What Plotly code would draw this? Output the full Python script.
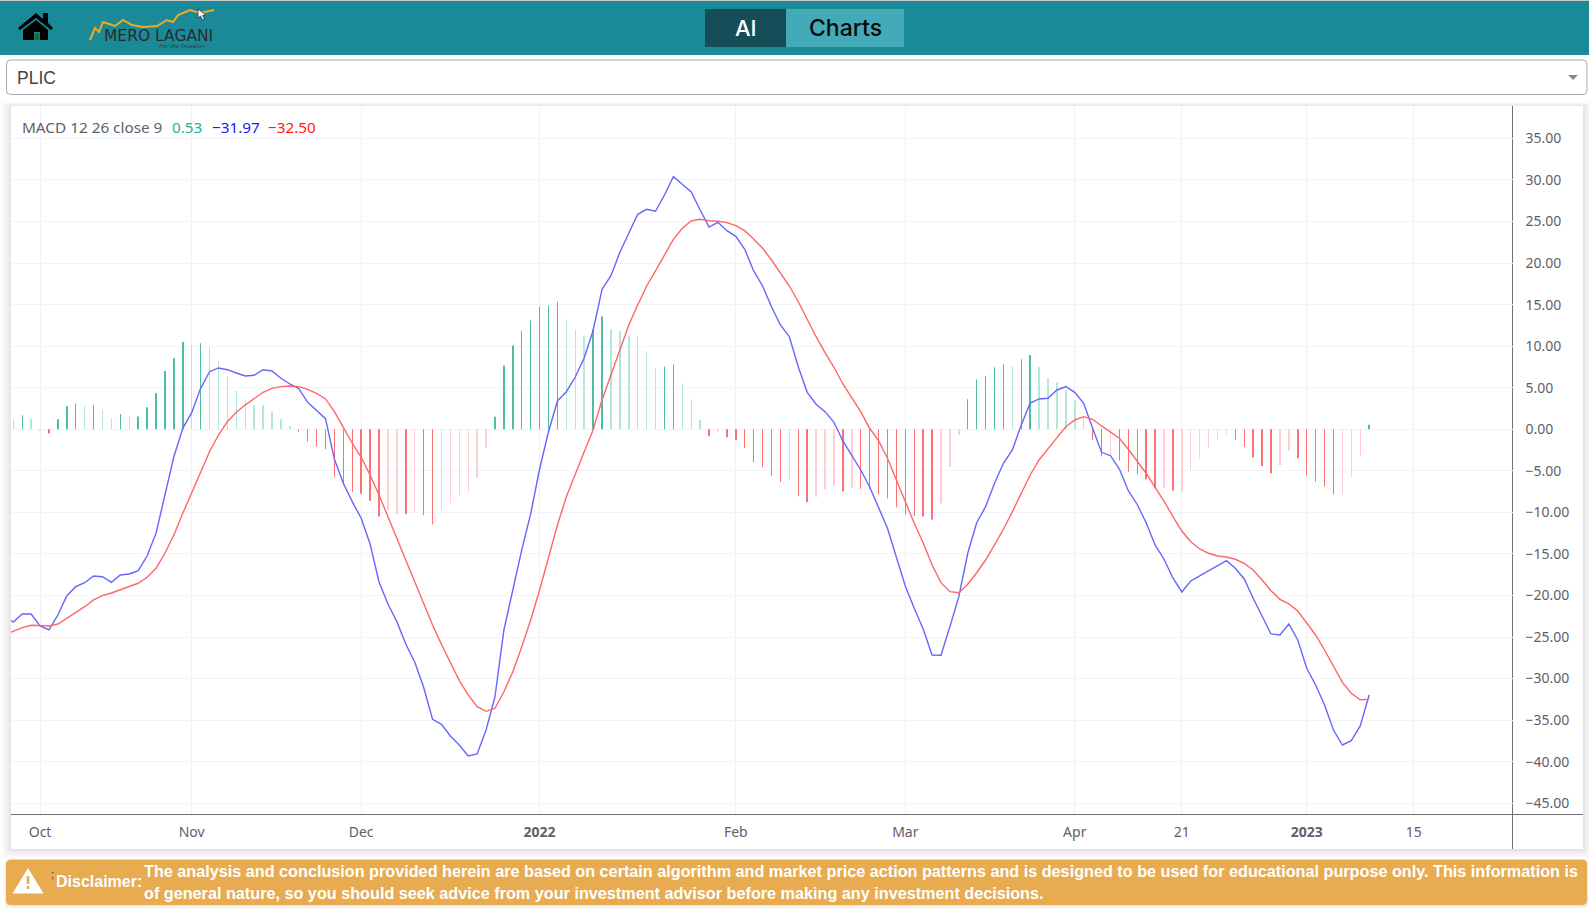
import plotly.graph_objects as go

W, H = 1589, 909

macd_before_first = -22.50
signal_before_first = -24.75

macd = [-23.19,-22.23,-22.23,-23.67,-24.15,-22.35,-20.02,-18.94,-18.46,-17.65,
-17.74,-18.41,-17.53,-17.41,-17.02,-15.25,-12.52,-7.91,-3.30,0.12,
2.00,4.93,6.93,7.38,7.17,6.77,6.41,6.50,7.17,7.02,
6.14,5.45,4.89,3.25,2.24,1.28,-3.61,-6.50,-8.71,-10.71,
-13.80,-18.38,-21.02,-23.15,-25.84,-28.00,-31.05,-34.90,-35.50,-36.91,
-37.99,-39.31,-39.07,-36.19,-32.18,-24.15,-19.34,-14.52,-10.19,-4.78,
-0.29,3.41,4.52,6.29,8.58,11.89,16.85,18.48,21.30,23.59,
25.87,26.47,26.23,28.19,30.40,29.48,28.56,26.39,24.34,24.91,
23.90,23.22,21.66,19.05,17.24,14.75,12.55,11.14,7.53,4.45,
3.01,2.12,0.84,-1.41,-3.09,-4.90,-6.91,-9.39,-11.91,-15.40,
-18.86,-21.54,-24.03,-27.16,-27.20,-23.75,-20.14,-14.92,-11.24,-9.31,
-6.50,-4.09,-2.49,0.52,3.16,3.65,3.73,4.73,5.13,4.45,
3.13,0.12,-2.77,-3.18,-4.78,-7.39,-9.05,-11.25,-13.92,-15.64,
-17.89,-19.58,-18.25,-17.65,-17.05,-16.45,-15.81,-16.73,-18.01,-20.34,
-22.43,-24.63,-24.75,-23.43,-25.35,-28.76,-30.77,-33.18,-36.19,-37.99,
-37.47,-35.70,-31.97]

signal = [-24.31,-23.87,-23.59,-23.59,-23.67,-23.43,-22.74,-22.07,-21.35,-20.54,
-20.02,-19.70,-19.30,-18.89,-18.53,-17.81,-16.73,-14.92,-12.72,-10.11,
-7.55,-5.17,-2.70,-0.69,0.91,2.05,2.92,3.73,4.45,4.93,
5.13,5.21,5.13,4.81,4.33,3.65,2.12,0.24,-1.68,-3.37,
-5.50,-7.91,-10.52,-13.02,-15.61,-18.25,-20.90,-23.55,-25.90,-28.16,
-30.25,-31.97,-33.38,-33.94,-33.57,-31.58,-29.17,-26.16,-22.95,-19.34,
-15.33,-11.52,-8.11,-5.29,-2.70,-0.08,3.53,6.53,9.54,12.55,
14.96,17.24,19.05,20.89,22.86,24.19,25.07,25.27,25.10,25.03,
24.86,24.50,23.90,22.90,21.78,20.37,18.77,17.24,15.35,13.15,
11.14,9.22,7.46,5.45,3.73,2.12,0.12,-1.37,-3.49,-6.10,
-8.90,-11.31,-13.65,-16.33,-18.46,-19.54,-19.66,-18.65,-17.26,-15.73,
-13.92,-12.03,-9.92,-7.70,-5.50,-3.69,-2.41,-1.01,0.31,1.12,
1.52,1.20,0.40,-0.29,-1.08,-2.41,-3.81,-5.29,-6.98,-8.63,
-10.52,-12.24,-13.53,-14.40,-14.92,-15.25,-15.37,-15.64,-16.13,-16.93,
-18.13,-19.42,-20.46,-21.02,-21.87,-23.35,-24.75,-26.56,-28.48,-30.45,
-31.77,-32.54,-32.50]

hist = [1.24,1.70,1.30,-0.10,-0.50,1.20,2.77,3.10,2.85,2.90,
2.30,1.30,1.85,1.60,1.55,2.65,4.33,7.00,8.55,10.50,
10.15,10.35,9.87,8.20,6.40,4.70,3.50,2.90,2.90,2.15,
1.20,0.40,-0.30,-1.50,-2.05,-2.40,-5.80,-6.65,-7.55,-7.75,
-8.60,-10.50,-9.70,-10.20,-10.20,-10.00,-10.35,-11.45,-9.70,-8.90,
-7.90,-7.50,-5.80,-2.20,1.50,7.66,10.07,11.87,13.08,14.76,
14.88,15.32,13.20,12.00,11.27,12.00,13.56,12.07,11.80,11.27,
11.10,9.39,7.34,7.54,7.78,5.50,3.57,1.16,-0.84,-0.24,
-0.96,-1.28,-2.25,-3.97,-4.57,-5.66,-6.34,-6.26,-8.06,-8.74,
-8.14,-7.26,-6.78,-7.48,-7.08,-7.16,-7.20,-7.86,-8.34,-9.39,
-10.27,-10.43,-10.50,-10.87,-8.90,-4.50,-0.68,3.60,6.00,6.40,
7.46,7.82,7.62,8.42,8.94,7.46,6.10,5.66,4.73,3.45,
1.60,-1.28,-3.29,-3.09,-3.77,-5.10,-5.37,-6.00,-7.10,-7.06,
-7.38,-7.50,-4.90,-3.57,-2.27,-1.28,-0.60,-1.28,-2.09,-3.40,
-4.41,-5.30,-4.37,-2.57,-3.50,-5.57,-6.30,-6.90,-7.82,-7.80,
-5.78,-3.20,0.53]

hist_shade = list("LSLLSSSSLS" "LLSLSSSSSS" "LSLLLLLLLL" "LLSSSSSSSS" "SSLLSLSSLL"
                  "LLLLSSSSSS" "SSLLLSSLLL" "LLLSSLLLSL" "SSSSSSSLSS" "LLLSLSSSSS"
                  "SSSSLLLSSS" "SSLSSLLLLL" "LSSLSSSSSL" "SLLLLLLSSS" "SSLLSSSSSL" "LLS")

bar_index = list(range(len(hist)))
line_index = [-1] + bar_index
tick_index = [3, 20, 39, 59, 81, 100, 119, 131, 145, 157]
tick_labels = ["Oct", "Nov", "Dec", "<b>2022</b>", "Feb", "Mar", "Apr", "21", "<b>2023</b>", "15"]

disclaimer_1 = ("The analysis and conclusion provided herein are based on certain algorithm and market price action "
                "patterns and is designed to be used for educational purpose only. This information is")
disclaimer_2 = "of general nature, so you should seek advice from your investment advisor before making any investment decisions."

SHADES = {("+", "S"): "#4dbea3", ("+", "L"): "#b2e8d8", ("-", "S"): "#ff7070", ("-", "L"): "#ffcdd2"}
bar_colors = [SHADES[("+" if v >= 0 else "-", s)] for v, s in zip(hist, hist_shade)]


def px(x):
    return x / W


def py(y):
    return 1 - y / H


def rect(x0, y0, x1, y1, fill, line=None, layer="below", opacity=1, lw=1):
    return dict(type="rect", xref="paper", yref="paper", x0=px(x0), x1=px(x1), y0=py(y0), y1=py(y1),
                fillcolor=fill, opacity=opacity, layer=layer,
                line=dict(color=line or "rgba(0,0,0,0)", width=lw if line else 0))


def path(points, fill=None, line=None, lw=1, close=False, layer="below"):
    d = "M " + " L ".join(f"{px(x):.6f},{py(y):.6f}" for x, y in points) + (" Z" if close else "")
    return dict(type="path", xref="paper", yref="paper", path=d, layer=layer,
                fillcolor=fill or "rgba(0,0,0,0)",
                line=dict(color=line or "rgba(0,0,0,0)", width=lw if line else 0))


def rrect(x0, y0, x1, y1, r, fill, line=None, lw=1):
    P = lambda x, y: f"{px(x):.6f},{py(y):.6f}"
    d = (f"M {P(x0 + r, y0)} L {P(x1 - r, y0)} Q {P(x1, y0)} {P(x1, y0 + r)} L {P(x1, y1 - r)} "
         f"Q {P(x1, y1)} {P(x1 - r, y1)} L {P(x0 + r, y1)} Q {P(x0, y1)} {P(x0, y1 - r)} "
         f"L {P(x0, y0 + r)} Q {P(x0, y0)} {P(x0 + r, y0)} Z")
    return dict(type="path", xref="paper", yref="paper", path=d, layer="below", fillcolor=fill,
                line=dict(color=line or "rgba(0,0,0,0)", width=lw if line else 0))


def label(x, y, text, size, color, family="Liberation Sans", anchor="left", weight=None):
    f = dict(size=size, color=color, family=family)
    if weight:
        f["weight"] = weight
    return dict(xref="paper", yref="paper", x=px(x), y=py(y), text=text, showarrow=False,
                xanchor=anchor, yanchor="middle", font=f, borderpad=0, borderwidth=0)


shapes = []
# header
shapes.append(rect(0, 0, W, 1, "#c9c9c9"))
shapes.append(rect(0, 1, W, 55, "#1b8a98"))
shapes.append(rect(705, 9, 786, 47, "#154e58"))
shapes.append(rect(786, 9, 904, 47, "#43abb8"))
# home icon
shapes.append(path([(18, 28), (36, 13), (43, 19), (43, 13), (48, 13), (48, 23), (53, 28), (51, 30), (36, 18), (20, 30)], fill="#000000", close=True))
shapes.append(path([(23, 30), (36, 20), (48, 30), (48, 40), (40, 40), (40, 32), (34, 32), (34, 40), (23, 40)], fill="#000000", close=True))
shapes.append(rect(34.5, 33, 39.5, 40, "#1e6b3a"))
# logo
shapes.append(path([(90, 40), (95, 28), (99, 32), (103, 22), (115, 26), (123, 20), (132, 25), (143, 27), (157, 26), (167, 20), (173, 22), (178, 15), (190, 10), (200, 13), (214, 10)], line="#efab1e", lw=2))
# cursor
shapes.append(path([(198, 9), (198, 18), (200.5, 16), (202.5, 20), (204.5, 19), (202.5, 15.5), (206, 15)], fill="#ffffff", line="#333333", lw=0.8, close=True))
# select
shapes.append(rrect(6.5, 60, 1587, 94.5, 4, "#ffffff", "#aaaaaa", 1))
shapes.append(path([(1568, 75), (1578, 75), (1573, 80)], fill="#888888", close=True))
# card shadow
for g, o in [(10, 0.012), (8, 0.015), (6, 0.02), (4, 0.025), (2, 0.03)]:
    shapes.append(rrect(11 - g, 106 - g * 0.4, 1583 + g, 849 + g, 3, f"rgba(0,0,0,{o})"))
shapes.append(rect(11, 106, 1583, 849, "#ffffff"))
shapes.append(rect(1512, 106, 1513, 849, "#6f6f75"))
shapes.append(rect(11, 814, 1583, 815, "#6f6f75"))
# disclaimer
for g, o in [(5, 0.02), (3, 0.03), (1, 0.05)]:
    shapes.append(rrect(6 - g * 0.4, 860, 1587 + g * 0.4, 905 + g, 5, f"rgba(0,0,0,{o})"))
shapes.append(rrect(6, 859.5, 1587, 905, 5, "#e8ab4f"))
shapes.append(path([(28, 868), (43.5, 893.5), (12.5, 893.5)], fill="#ffffff", close=True))
shapes.append(rect(26.7, 876, 29.3, 884, "#e8ab4f"))
shapes.append(rect(26.7, 886, 29.3, 889, "#e8ab4f"))

annotations = [
    label(745.5, 28.5, "AI", 22, "#ffffff", "Inter", "center", 500),
    label(845.5, 28.5, "Charts", 23, "#0a0a0a", "Inter", "center", 500),
    label(104, 35.5, "MERO LAGANI", 15.5, "#2a2a2a", "DejaVu Sans"),
    label(158, 46, "<i>For the Investor</i>", 5.5, "#333333", "DejaVu Serif"),
    label(17, 77.5, "PLIC", 17.5, "#444444"),
    label(21.7, 126.7, "MACD 12 26 close 9", 15.3, "#5f6068", "Noto Sans"),
    label(172, 126.7, "0.53", 15.3, "#26b08f", "Noto Sans"),
    label(212, 126.7, "\u221231.97", 15.3, "#1a1aff", "Noto Sans"),
    label(268, 126.7, "\u221232.50", 15.3, "#ff1a1a", "Noto Sans"),
    label(51, 874, ";", 11, "#333333"),
    label(56, 881.5, "<b>Disclaimer:</b>", 16, "#ffffff"),
    label(143.5, 870.5, "<b>" + disclaimer_1 + "</b>", 16.22, "#ffffff"),
    label(143.5, 893, "<b>" + disclaimer_2 + "</b>", 16.22, "#ffffff"),
]

fig = go.Figure()
fig.add_bar(x=bar_index, y=hist, width=0.05, marker=dict(color=bar_colors, line=dict(width=0)), showlegend=False, hoverinfo="skip")
fig.add_scatter(x=line_index, y=[macd_before_first] + macd, mode="lines", line=dict(color="#6666ff", width=1.4), showlegend=False, hoverinfo="skip")
fig.add_scatter(x=line_index, y=[signal_before_first] + signal, mode="lines", line=dict(color="#ff6666", width=1.4), showlegend=False, hoverinfo="skip")

fig.update_layout(
    width=W, height=H, autosize=False,
    margin=dict(l=0, r=0, t=0, b=0, pad=0),
    paper_bgcolor="#ffffff", plot_bgcolor="rgba(0,0,0,0)",
    shapes=shapes, annotations=annotations, showlegend=False,
    font=dict(family="Noto Sans", size=14, color="#5f6068"),
    xaxis=dict(domain=[px(11), px(1512.5)], range=[-0.258, 168.07], tickmode="array",
               tickvals=tick_index, ticktext=tick_labels, showgrid=True, gridcolor="#eff1f8", gridwidth=1,
               zeroline=False, showline=False, ticks="", ticklabelstandoff=8, automargin=False,
               tickfont=dict(family="Noto Sans", size=14, color="#5f6068")),
    yaxis=dict(domain=[py(814.3), py(106)], range=[-46.33, 38.9], side="right", tick0=-45, dtick=5,
               tickformat=".2f", showgrid=True, gridcolor="#f2f4fb", gridwidth=1,
               zeroline=False, showline=False, ticks="", ticklabelstandoff=12, automargin=False,
               tickfont=dict(family="Noto Sans", size=14, color="#5f6068")),
)

fig.write_html("out.html", config={"displayModeBar": False},
               post_script="document.body.style.margin='0';document.body.style.overflow='hidden';")
